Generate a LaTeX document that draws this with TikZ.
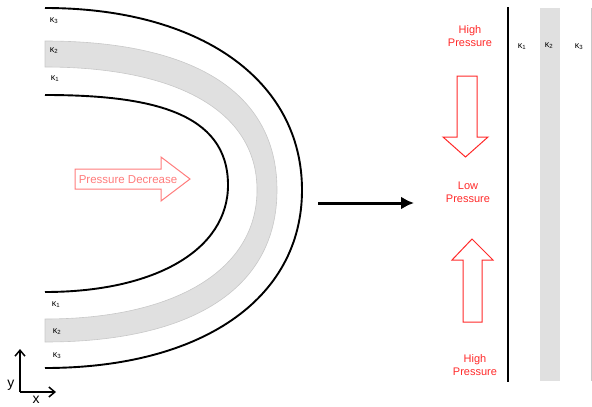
\documentclass[tikz,border=0pt]{standalone}
\usepackage{fontspec}
\setmainfont{Liberation Sans}
\usetikzlibrary{arrows.meta}
\definecolor{bandgray}{HTML}{E0E0E0}
\definecolor{bandedge}{HTML}{C8C8C8}
\definecolor{lightred}{HTML}{FF7C7C}
\definecolor{pred}{HTML}{FF2A2A}
\tikzset{
  wall/.style={line width=1.9pt},
  kap/.style={font=\fontsize{9}{10}\selectfont, inner sep=0pt},
  ptext/.style={font=\fontsize{11}{13}\selectfont, text=pred, align=center, inner sep=0pt},
  parrow/.style={draw=pred, line width=1pt, fill=white},
  ax/.style={line width=1.5pt, -{Straight Barb[length=6pt,width=10pt]}},
}
\begin{document}
\begin{tikzpicture}[x=1pt,y=-1pt]
\useasboundingbox (0,0) rectangle (592,407);
% gray band (left)
\fill[bandgray, draw=bandedge, line width=0.6pt]
  (45,41) .. controls (190,41) and (277,90) .. (277,190)
  .. controls (277,290) and (190,342) .. (45,342) -- (45,319)
  .. controls (175,319) and (257,270) .. (257,190)
  .. controls (257,110) and (175,67) .. (45,67) -- cycle;
% outer wall
\draw[wall] (45,8) .. controls (200,8) and (302,80) .. (302,190)
  .. controls (302,300) and (200,368) .. (45,368);
% inner wall
\draw[wall] (45,95) .. controls (150,95) and (228,112) .. (228,185)
  .. controls (228,250) and (155,292) .. (45,292);
% kappa labels left
\node[kap] (lk3) at (54,21) {κ\textsubscript{3}};
\node[kap] (lk2) at (54,51) {κ\textsubscript{2}};
\node[kap] (lk1) at (55,79) {κ\textsubscript{1}};
\node[kap] (lb1) at (56,305) {κ\textsubscript{1}};
\node[kap] (lb2) at (57,332) {κ\textsubscript{2}};
\node[kap] (lb3) at (57,356) {κ\textsubscript{3}};
% pressure decrease arrow
\draw[draw=lightred, line width=1pt, fill=white]
  (75,169) -- (161,169) -- (161,157) -- (190,179) -- (161,201) -- (161,189) -- (75,189) -- cycle;
\node[font=\fontsize{11.5}{13}\selectfont, text=lightred, inner sep=0pt] (pd) at (128,179.5) {Pressure Decrease};
% main arrow
\coordinate (ma) at (318,203);
\coordinate (mb) at (414,203);
\draw[line width=3pt, -{Latex[length=13pt,width=13pt]}] (ma) -- (mb);
% axes
\coordinate (o) at (20,392);
\coordinate (yend) at (20,349);
\coordinate (xend) at (56,392);
\draw[ax] (o) -- (yend);
\draw[ax] (o) -- (xend);
\node[font=\fontsize{14}{15}\selectfont, inner sep=0pt] (ylab) at (11,385) {y};
\node[font=\fontsize{14}{15}\selectfont, inner sep=0pt] (xlab) at (36,400) {x};
% right side: layers
\fill[bandgray] (540,8) rectangle (560,381);
\draw[line width=1.8pt] (508,7) -- (508,382);
\draw[bandedge, line width=0.8pt] (591,8) -- (591,381);
\node[kap] (rk1) at (522,47) {κ\textsubscript{1}};
\node[kap] (rk2) at (549,46) {κ\textsubscript{2}};
\node[kap] (rk3) at (579,47) {κ\textsubscript{3}};
% pressure texts
\node[ptext] (hp1) at (470,36) {High\\Pressure};
\node[ptext] (lp) at (468,192) {Low\\Pressure};
\node[ptext] (hp2) at (475,365) {High\\Pressure};
% down arrow
\draw[parrow] (457,76) -- (477,76) -- (477,137) -- (488,137) -- (465.5,157) -- (443,137) -- (457,137) -- cycle;
% up arrow
\draw[parrow] (463,322) -- (482,322) -- (482,260) -- (493,260) -- (472,239) -- (452,260) -- (463,260) -- cycle;
\end{tikzpicture}
\end{document}
